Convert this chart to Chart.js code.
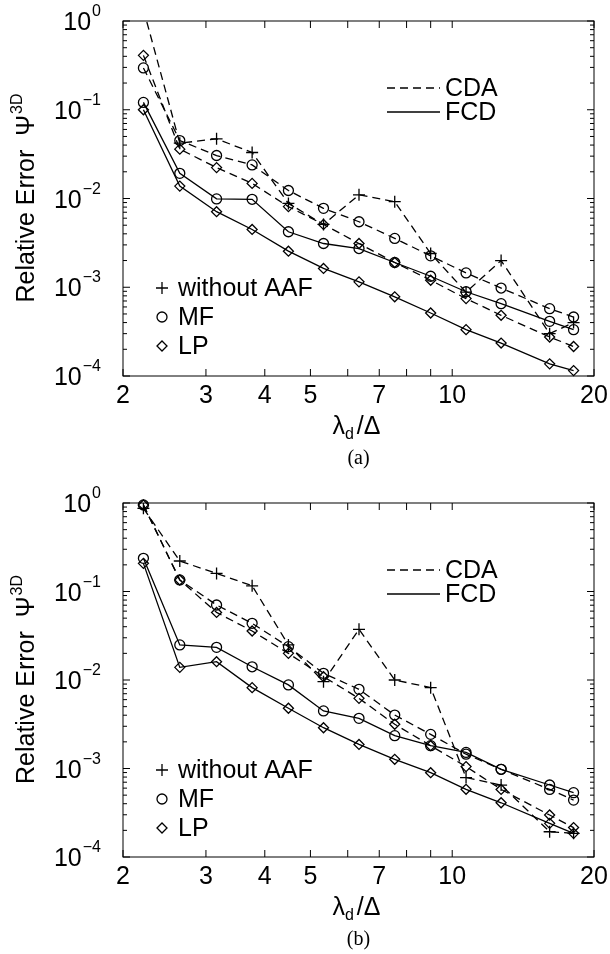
<!DOCTYPE html>
<html>
<head>
<meta charset="utf-8">
<script src="https://cdn.jsdelivr.net/npm/chart.js@4/dist/chart.umd.min.js"></script>
<style>
  body { margin: 0; background: #fff; width: 610px; height: 954px; position: relative; overflow: hidden; }
  canvas { position: absolute; left: 0; }
  #panel-a { top: 0; }
  #panel-b { top: 481px; }
</style>
</head>
<body>
<canvas id="panel-a" width="610" height="481"></canvas>
<canvas id="panel-b" width="610" height="473"></canvas>
<script>
// lambda_d / Delta sample points (shared by every curve)
const lambdaRatio = [2.21, 2.64, 3.16, 3.76, 4.49, 5.33, 6.34, 7.55, 9.0, 10.7, 12.7, 16.1, 18.1];

// panel (a)
const aCdaNoAaf = [1.35, 0.042, 0.047, 0.033, 0.0088, 0.0051, 0.011, 0.0092, 0.0024, 0.00088, 0.0020, 0.00030, 0.00040];
const aCdaMf = [0.296, 0.045, 0.0305, 0.0239, 0.0123, 0.00775, 0.00547, 0.00355, 0.00226, 0.00145, 0.00098, 0.000574, 0.000462];
const aCdaLp = [0.41, 0.036, 0.0223, 0.0148, 0.0081, 0.0051, 0.00311, 0.0019, 0.0012, 0.000745, 0.000483, 0.000275, 0.000215];
const aFcdMf = [0.121, 0.0192, 0.0099, 0.0098, 0.00422, 0.00311, 0.00273, 0.0019, 0.00133, 0.00089, 0.000653, 0.000413, 0.000333];
const aFcdLp = [0.100, 0.0138, 0.0071, 0.00448, 0.00255, 0.00163, 0.00115, 0.00078, 0.000513, 0.000333, 0.000235, 0.000137, 0.000115];

// panel (b)
const bCdaNoAaf = [0.87, 0.221, 0.16, 0.116, 0.0249, 0.00957, 0.0374, 0.0100, 0.0082, 0.00079, 0.00065, 0.000193, 0.000185];
const bCdaMf = [0.95, 0.135, 0.0704, 0.0437, 0.0238, 0.0119, 0.00785, 0.00402, 0.00243, 0.00145, 0.00098, 0.000580, 0.00044];
const bCdaLp = [0.95, 0.135, 0.058, 0.0358, 0.020, 0.0109, 0.0062, 0.00316, 0.00181, 0.00105, 0.00058, 0.000298, 0.000215];
const bFcdMf = [0.237, 0.0249, 0.0234, 0.0141, 0.0088, 0.00447, 0.00369, 0.00235, 0.00181, 0.00152, 0.00098, 0.000651, 0.000533];
const bFcdLp = [0.208, 0.0139, 0.0161, 0.0082, 0.00479, 0.00289, 0.00187, 0.00127, 0.000897, 0.000582, 0.00041, 0.00024, 0.000185];

// axes
const xTickValues = [2, 3, 4, 5, 6, 7, 8, 9, 10, 20];
const xTickLabels = [2, 3, 4, 5, 7, 10, 20];
const yExponents = [0, -1, -2, -3, -4];

const methodNames = ["CDA", "FCD"];
const filterNames = ["without AAF", "MF", "LP"];

const Config = {
  font: '"Liberation Sans", Arial, sans-serif',
  size: 25,
  small: 16,
  dash: [8, 5],
  line: 1.3,
};

const sans = (s) => `${s}px ${Config.font}`;

const styleFor = (dashed, marker) => ({
  borderColor: "#000",
  borderWidth: Config.line,
  borderDash: dashed ? Config.dash : [],
  pointStyle: marker,
  pointRadius: marker === "cross" ? 6 : 5,
  pointBorderColor: "#000",
  pointBackgroundColor: "rgba(0,0,0,0)",
  pointBorderWidth: Config.line,
  fill: false,
  tension: 0,
  // the "without AAF" curve leaves the box at the top, so cut it there
  clip: marker === "cross" ? 0 : false,
});

const toPoints = (values) => lambdaRatio.map((x, i) => ({ x, y: values[i] }));

// draws the box, inward ticks, labels and the two in-plot legends
const frame = {
  id: "frame",
  afterDraw(chart, args, opts) {
    const { ctx, chartArea: a, scales } = chart;
    const x = scales.x, y = scales.y;
    ctx.save();
    ctx.strokeStyle = "#000";
    ctx.fillStyle = "#000";
    ctx.lineWidth = 1;
    ctx.setLineDash([]);
    ctx.strokeRect(a.left, a.top, a.right - a.left, a.bottom - a.top);

    ctx.beginPath();
    xTickValues.forEach((v) => {
      const px = x.getPixelForValue(v);
      ctx.moveTo(px, a.bottom); ctx.lineTo(px, a.bottom - 7);
      ctx.moveTo(px, a.top); ctx.lineTo(px, a.top + 7);
    });
    yExponents.forEach((e) => {
      for (let m = 1; m <= 9; m++) {
        const v = m * Math.pow(10, e);
        if (v > 1) break;
        const py = y.getPixelForValue(v);
        const len = m === 1 ? 7 : 4;
        ctx.moveTo(a.left, py); ctx.lineTo(a.left + len, py);
        ctx.moveTo(a.right, py); ctx.lineTo(a.right - len, py);
      }
    });
    ctx.stroke();

    // x tick labels
    ctx.font = sans(Config.size);
    ctx.textAlign = "center";
    ctx.textBaseline = "middle";
    xTickLabels.forEach((v) => ctx.fillText(String(v), x.getPixelForValue(v), a.bottom + 20));

    // y tick labels 10^e
    const right = a.left - 22;
    yExponents.forEach((e) => {
      const py = y.getPixelForValue(Math.pow(10, e));
      const ex = e === 0 ? "0" : "\u2212" + Math.abs(e);
      ctx.font = sans(Config.small);
      ctx.textAlign = "right";
      ctx.textBaseline = "alphabetic";
      const w = ctx.measureText(ex).width;
      ctx.fillText(ex, right, py - 5);
      ctx.font = sans(Config.size);
      ctx.fillText("10", right - w - 1, py + 9);
    });

    // y axis title
    ctx.save();
    ctx.translate(34, (a.top + a.bottom) / 2);
    ctx.rotate(-Math.PI / 2);
    const t1 = "Relative Error  \u03A8";
    ctx.font = sans(Config.size);
    const w1 = ctx.measureText(t1).width;
    ctx.font = sans(Config.small);
    const w2 = ctx.measureText("3D").width;
    const sx = -(w1 + w2) / 2;
    ctx.textAlign = "left";
    ctx.textBaseline = "alphabetic";
    ctx.font = sans(Config.size);
    ctx.fillText(t1, sx, 0);
    ctx.font = sans(Config.small);
    ctx.fillText("3D", sx + w1 + 1, -12);
    ctx.restore();

    // x axis title  lambda_d / Delta
    const cx = (a.left + a.right) / 2;
    const ty = a.bottom + 58;
    ctx.textAlign = "left";
    ctx.textBaseline = "alphabetic";
    ctx.font = sans(Config.size);
    const wl = ctx.measureText("\u03BB").width;
    const wr = ctx.measureText(" /\u0394").width;
    ctx.font = sans(Config.small);
    const wd = ctx.measureText("d").width;
    const lx = cx - (wl + wd + wr) / 2;
    ctx.font = sans(Config.size);
    ctx.fillText("\u03BB", lx, ty);
    ctx.font = sans(Config.small);
    ctx.fillText("d", lx + wl, ty + 5);
    ctx.font = sans(Config.size);
    ctx.fillText(" /\u0394", lx + wl + wd - 4, ty);

    // caption
    ctx.font = '20px "Liberation Serif", serif';
    ctx.textAlign = "center";
    ctx.fillText(opts.caption, cx, a.bottom + 88);

    // line-style legend (top right)
    ctx.font = sans(Config.size);
    ctx.textAlign = "left";
    ctx.textBaseline = "middle";
    methodNames.forEach((name, i) => {
      const ly = a.top + 67 + i * 24;
      ctx.beginPath();
      ctx.setLineDash(i === 0 ? Config.dash : []);
      ctx.lineWidth = Config.line;
      ctx.moveTo(a.left + 264, ly); ctx.lineTo(a.left + 317, ly);
      ctx.stroke();
      ctx.setLineDash([]);
      ctx.fillText(name, a.left + 322, ly + 1);
    });

    // marker legend (bottom left)
    const markers = ["cross", "circle", "rectRot"];
    filterNames.forEach((name, i) => {
      const ly = a.top + 267 + i * 29;
      ctx.lineWidth = Config.line;
      ctx.fillStyle = "rgba(0,0,0,0)";
      Chart.helpers.drawPoint(ctx, { pointStyle: markers[i], radius: markers[i] === "cross" ? 6 : 5, borderWidth: Config.line, rotation: 0 }, a.left + 39, ly);
      ctx.fillStyle = "#000";
      ctx.fillText(name, a.left + 55, ly + 1);
    });
    ctx.restore();
  },
};

const makeChart = (id, series, caption, top, bottom) =>
  new Chart(document.getElementById(id), {
    type: "line",
    data: {
      datasets: [
        { ...styleFor(true, "cross"), data: toPoints(series[0]) },
        { ...styleFor(true, "circle"), data: toPoints(series[1]) },
        { ...styleFor(true, "rectRot"), data: toPoints(series[2]) },
        { ...styleFor(false, "circle"), data: toPoints(series[3]) },
        { ...styleFor(false, "rectRot"), data: toPoints(series[4]) },
      ],
    },
    options: {
      responsive: false,
      animation: false,
      events: [],
      layout: { padding: { left: 123, right: 16, top, bottom } },
      scales: {
        x: { type: "logarithmic", min: 2, max: 20, display: false },
        y: { type: "logarithmic", min: 1e-4, max: 1, display: false },
      },
      plugins: {
        legend: { display: false },
        tooltip: { enabled: false },
        frame: { caption },
      },
    },
    plugins: [frame],
  });

makeChart("panel-a", [aCdaNoAaf, aCdaMf, aCdaLp, aFcdMf, aFcdLp], "(a)", 21, 105);
makeChart("panel-b", [bCdaNoAaf, bCdaMf, bCdaLp, bFcdMf, bFcdLp], "(b)", 22, 97);
</script>
</body>
</html>
